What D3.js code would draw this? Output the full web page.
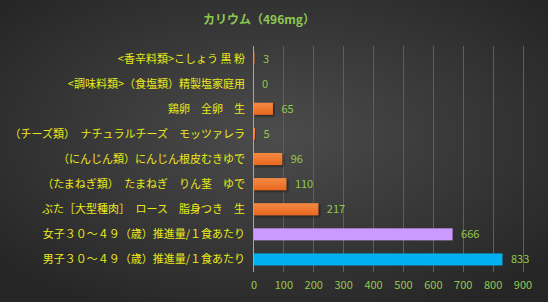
<!DOCTYPE html>
<html><head><meta charset="utf-8">
<script src="https://cdn.jsdelivr.net/npm/d3@7/dist/d3.min.js"></script>
<style>html,body{margin:0;padding:0;background:#333;}svg{display:block;}</style>
</head><body>
<svg id="c" width="548" height="302"></svg>
<script>
const title = "カリウム（496mg）";
const categories = [
  "<香辛料類>こしょう 黒 粉",
  "<調味料類>（食塩類）精製塩家庭用",
  "鶏卵　全卵　生",
  "（チーズ類）　ナチュラルチーズ　モッツァレラ",
  "（にんじん類）にんじん根皮むきゆで",
  "（たまねぎ類）　たまねぎ　りん茎　ゆで",
  "ぶた［大型種肉］　ロース　脂身つき　生",
  "女子３０～４９（歳）推進量/１食あたり",
  "男子３０～４９（歳）推進量/１食あたり"
];
const values = [3, 0, 65, 5, 96, 110, 217, 666, 833];
const barKinds = ["food","food","food","food","food","food","food","female","male"];
const ticks = [0,100,200,300,400,500,600,700,800,900];

const svg = d3.select("#c");
const W = 548, H = 302;
const defs = svg.append("defs");
const bg = defs.append("radialGradient").attr("id","bg").attr("cx","50%").attr("cy","45%").attr("r","65%");
bg.append("stop").attr("offset","0%").attr("stop-color","#4c4c4c");
bg.append("stop").attr("offset","100%").attr("stop-color","#262626");
const og = defs.append("linearGradient").attr("id","og").attr("x1",0).attr("y1",0).attr("x2",0).attr("y2",1);
og.append("stop").attr("offset","0%").attr("stop-color","#f58a44");
og.append("stop").attr("offset","100%").attr("stop-color","#e8671f");
const sh = defs.append("filter").attr("id","sh").attr("x","-5%").attr("y","-20%").attr("width","115%").attr("height","160%");
sh.append("feDropShadow").attr("dx",1.5).attr("dy",1.5).attr("stdDeviation",1).attr("flood-color","#000").attr("flood-opacity",0.5);

svg.append("rect").attr("width",W).attr("height",H).attr("fill","url(#bg)");

const x = d3.scaleLinear().domain([0,900]).range([253.5,522.5]);
const y = d3.scaleBand().domain(categories).range([46,272]).paddingInner(0.52).paddingOuter(0.26);

const colorOf = k => k==="male" ? "#00b0f0" : k==="female" ? "#cc99ff" : "url(#og)";

// gridlines
svg.append("g").selectAll("line").data(ticks.slice(1)).join("line")
  .attr("x1",d=>Math.round(x(d))+0.5).attr("x2",d=>Math.round(x(d))+0.5)
  .attr("y1",46).attr("y2",272).attr("stroke","#5e5e5e").attr("stroke-width",1);

// bars
svg.append("g").selectAll("rect").data(values).join("rect")
  .attr("x",x(0)).attr("y",(d,i)=>y(categories[i]))
  .attr("width",d=>Math.max(0,x(d)-x(0))).attr("height",y.bandwidth())
  .attr("fill",(d,i)=>colorOf(barKinds[i]))
  .attr("filter",(d,i)=>barKinds[i]==="food"?"url(#sh)":null);

// axis line
svg.append("line").attr("x1",253.5).attr("x2",253.5).attr("y1",46).attr("y2",272)
  .attr("stroke","#a6a6a6").attr("stroke-width",1);

const font = "'Noto Sans CJK JP', 'Noto Sans', sans-serif";
// category labels
svg.append("g").selectAll("text").data(categories).join("text")
  .attr("x",245).attr("y",d=>y(d)+y.bandwidth()/2).attr("dy","0.36em")
  .attr("text-anchor","end").attr("font-family",font).attr("font-size",11)
  .attr("fill","#eaea1a").text(d=>d);

// value labels
svg.append("g").selectAll("text").data(values).join("text")
  .attr("x",d=>x(d)+8.5).attr("y",(d,i)=>y(categories[i])+y.bandwidth()/2).attr("dy","0.36em")
  .attr("font-family",font).attr("font-size",11).attr("fill","#92c850").text(d=>d);

// x tick labels
const ax = svg.append("g").attr("transform","translate(0,272)")
  .call(d3.axisBottom(x).tickValues(ticks).tickSize(0).tickPadding(9));
ax.select(".domain").remove();
ax.selectAll("text").attr("font-family",font).attr("font-size",11).attr("fill","#92c850");

// title
svg.append("text").attr("x",259).attr("y",24).attr("text-anchor","middle")
  .attr("font-family",font).attr("font-size",12).attr("font-weight","bold")
  .attr("fill","#8cc850").text(title);
</script>
</body></html>
